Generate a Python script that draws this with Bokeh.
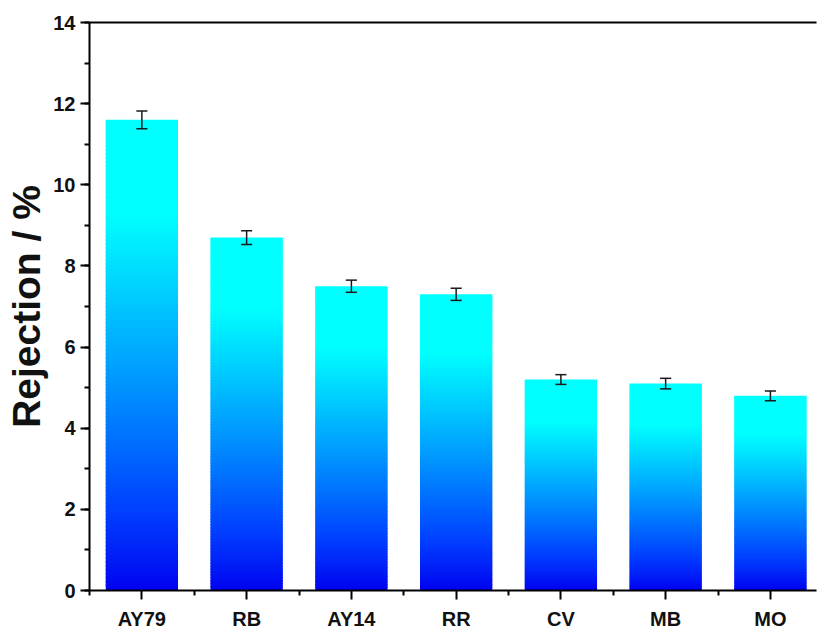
from bokeh.plotting import figure
from bokeh.models import FixedTicker, SingleIntervalTicker, LinearAxis, Range1d
from bokeh.embed import file_html
from bokeh.resources import INLINE

# Dye rejection data
dyes = ["AY79", "RB", "AY14", "RR", "CV", "MB", "MO"]
rejection = [11.6, 8.7, 7.5, 7.3, 5.2, 5.1, 4.8]
error = [0.22, 0.17, 0.15, 0.15, 0.12, 0.13, 0.12]

positions = list(range(1, len(dyes) + 1))
bar_width = 0.69
cap_half = 0.053
n_slices = 120

p = figure(width=817, height=632, output_backend="svg", toolbar_location=None,
           x_range=Range1d(0.5, 7.44), y_range=Range1d(0, 14),
           min_border_left=89, min_border_top=22, min_border_bottom=41,
           min_border_right=1)
p.outline_line_color = None
p.grid.visible = False
p.background_fill_color = "white"

# vertical blue -> cyan gradient inside each bar, built from stacked slices
xs, bottoms, tops, colors = [], [], [], []
for x, v in zip(positions, rejection):
    for k in range(n_slices):
        f0 = k / n_slices
        f1 = min(1.0, (k + 1.6) / n_slices)
        t = min(1.0, ((k + 0.5) / n_slices) / 0.8) ** 0.9
        g = int(round(255 * t))
        b = int(round(240 + 15 * min(1.0, t * 4)))
        xs.append(x)
        bottoms.append(v * f0)
        tops.append(v * f1)
        colors.append("#%02x%02x%02x" % (0, g, b))
p.vbar(x=xs, bottom=bottoms, top=tops, width=bar_width, fill_color=colors,
       line_color=None)

# error bars with caps
lower = [v - e for v, e in zip(rejection, error)]
upper = [v + e for v, e in zip(rejection, error)]
err_kw = dict(line_color="#1a1a1a", line_width=1.5)
p.segment(x0=positions, y0=lower, x1=positions, y1=upper, **err_kw)
p.segment(x0=[x - cap_half for x in positions], y0=upper,
          x1=[x + cap_half for x in positions], y1=upper, **err_kw)
p.segment(x0=[x - cap_half for x in positions], y0=lower,
          x1=[x + cap_half for x in positions], y1=lower, **err_kw)

font = "Liberation Sans"

# x axis
xa = p.xaxis[0]
xa.ticker = FixedTicker(ticks=positions,
                        minor_ticks=[x - 0.5 for x in positions] + [positions[-1] + 0.5])
xa.major_label_overrides = {x: d for x, d in zip(positions, dyes)}
xa.major_label_text_font = font
xa.major_label_text_font_style = "bold"
xa.major_label_text_font_size = "20px"
xa.major_label_text_color = "#111111"
xa.major_label_standoff = 8
xa.axis_line_width = 2
xa.major_tick_line_width = 2
xa.minor_tick_line_width = 2
xa.major_tick_in = 0
xa.major_tick_out = 9
xa.minor_tick_in = 0
xa.minor_tick_out = 5

# y axis
ya = p.yaxis[0]
ya.ticker = SingleIntervalTicker(interval=2, num_minor_ticks=2)
ya.major_label_text_font = font
ya.major_label_text_font_style = "bold"
ya.major_label_text_font_size = "20px"
ya.major_label_text_color = "#111111"
ya.major_label_standoff = 5
ya.axis_label = "Rejection / %"
ya.axis_label_text_font = font
ya.axis_label_text_font_style = "bold"
ya.axis_label_text_font_size = "39px"
ya.axis_label_text_color = "#111111"
ya.axis_label_standoff = 2
ya.axis_line_width = 2
ya.major_tick_line_width = 2
ya.minor_tick_line_width = 2
ya.major_tick_in = 0
ya.major_tick_out = 9
ya.minor_tick_in = 0
ya.minor_tick_out = 5

# plain top border line
top = LinearAxis(ticker=FixedTicker(ticks=[]), axis_line_width=2,
                 major_label_text_font_size="0px", major_tick_line_color=None,
                 minor_tick_line_color=None)
p.add_layout(top, "above")

open("out.html", "w").write(file_html(p, INLINE))
